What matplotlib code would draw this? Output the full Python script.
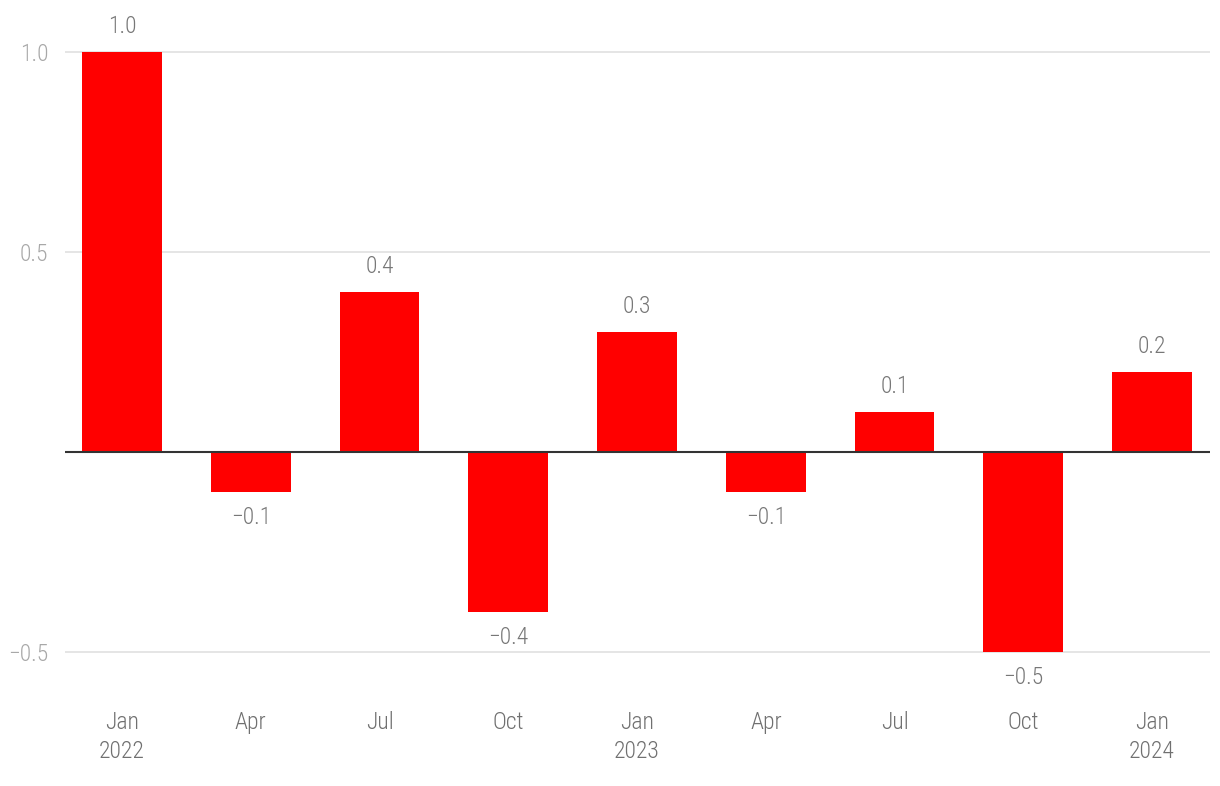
import matplotlib
matplotlib.use('Agg')
import matplotlib.pyplot as plt
import numpy as np

plt.rcParams['font.family'] = ['Roboto Condensed', 'DejaVu Sans']
plt.rcParams['font.stretch'] = 'condensed'
plt.rcParams['font.weight'] = 'light'

# Quarterly values
quarters = ['Jan\n2022', 'Apr', 'Jul', 'Oct', 'Jan\n2023', 'Apr', 'Jul', 'Oct', 'Jan\n2024']
values = [1.0, -0.1, 0.4, -0.4, 0.3, -0.1, 0.1, -0.5, 0.2]
yticks = [-0.5, 0.5, 1.0]

fig = plt.figure(figsize=(12.2, 7.86), dpi=100)
ax = fig.add_axes([65 / 1220, 1 - 692 / 786, 1145 / 1220, 680 / 786])

x = np.arange(len(values))
ax.bar(x, values, width=0.62, color='#ff0000', zorder=3)

for xi, v in zip(x, values):
    if v >= 0:
        ax.annotate(f'{v:.1f}', (xi, v), xytext=(0, 10), textcoords='offset points',
                    ha='center', va='bottom', fontsize=17, color='#777777')
    else:
        ax.annotate(f'\u2212{abs(v):.1f}', (xi, v), xytext=(0, -10), textcoords='offset points',
                    ha='center', va='top', fontsize=17, color='#777777')

ax.set_xlim(-0.443, 8.45)
ax.set_ylim(-0.6, 1.1)
ax.set_yticks(yticks)
ax.set_yticklabels(['\u22120.5', '0.5', '1.0'])
ax.set_xticks(x)
ax.set_xticklabels(quarters)
ax.grid(axis='y', color='#e0e0e0', linewidth=1.2, zorder=0)
ax.axhline(0, color='#333333', linewidth=1.5, zorder=4)

for s in ax.spines.values():
    s.set_visible(False)
ax.tick_params(axis='both', length=0)
ax.tick_params(axis='y', labelsize=17, labelcolor='#a8a8a8', pad=12)
ax.tick_params(axis='x', labelsize=17, labelcolor='#707070', pad=14)
for lab in ax.get_xticklabels():
    lab.set_linespacing(1.3)

fig.savefig('out.png', dpi=100)
